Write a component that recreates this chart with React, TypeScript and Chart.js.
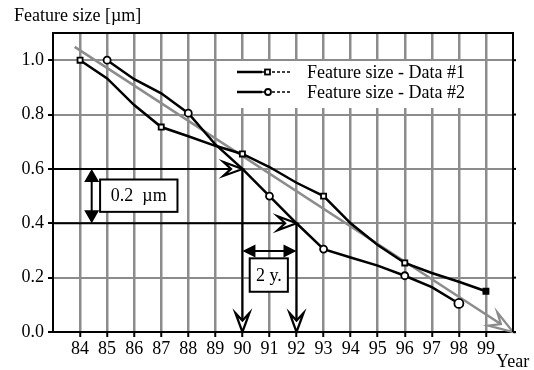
import { useEffect, useRef } from 'react';
import { Chart, registerables } from 'chart.js';

Chart.register(...registerables);

const years1 = [84, 85, 86, 87, 88, 89, 90, 91, 92, 93, 94, 95, 96, 97, 98, 99];
const series1 = [1.0, 0.933, 0.835, 0.754, 0.72, 0.685, 0.655, 0.607, 0.549, 0.5, 0.4, 0.32, 0.254, 0.217, 0.185, 0.15];
const markers1 = [84, 87, 90, 93, 96, 99];

const years2 = [85, 86, 87, 88, 89, 90, 91, 92, 93, 94, 95, 96, 97, 98];
const series2 = [1.0, 0.93, 0.878, 0.805, 0.69, 0.6, 0.5, 0.4, 0.305, 0.274, 0.244, 0.207, 0.165, 0.105];
const markers2 = [85, 88, 91, 93, 96, 98];

const trendX = [83.8, 100];
const trendY = [1.049, 0];

const xTicks = [84, 85, 86, 87, 88, 89, 90, 91, 92, 93, 94, 95, 96, 97, 98, 99];
const yTicks = [0, 0.2, 0.4, 0.6, 0.8, 1.0];

const legendLabels = ['Feature size - Data #1', 'Feature size - Data #2'];
const yTitle = 'Feature size [\u00b5m]';
const xTitle = 'Year';

// annotation geometry in data units
const hArrows = [
  { y: 0.6, x0: 83, x1: 90 },
  { y: 0.4, x0: 83, x1: 92 },
];
const vArrows = [
  { x: 90, y0: 0.6, y1: 0 },
  { x: 92, y0: 0.4, y1: 0 },
];
const dimV = { x: 84.43, y0: 0.6, y1: 0.4 };
const dimH = { y: 0.298, x0: 90, x1: 92 };
const boxes = [
  { x0: 84.74, x1: 87.6, y0: 0.561, y1: 0.442, text: '0.2  \u00b5m' },
  { x0: 90.27, x1: 91.68, y0: 0.271, y1: 0.148, text: '2 y.' },
];

const FONT = "'Liberation Serif', 'Times New Roman', serif";
const FS = 18;

function openHead(ctx: CanvasRenderingContext2D, tx: number, ty: number, ang: number, len: number, half: number, color: string) {
  const cos = Math.cos(ang), sin = Math.sin(ang);
  const p = (a: number, b: number) => [tx - a * cos - b * -sin, ty - a * sin - b * cos];
  const w1 = p(len, half);
  const w2 = p(len, -half);
  const n = p(len * 0.6, 0);
  ctx.save();
  ctx.beginPath();
  ctx.moveTo(tx, ty);
  ctx.lineTo(w1[0], w1[1]);
  ctx.lineTo(n[0], n[1]);
  ctx.lineTo(w2[0], w2[1]);
  ctx.closePath();
  ctx.fillStyle = '#fff';
  ctx.fill();
  ctx.strokeStyle = color;
  ctx.lineWidth = 2.2;
  ctx.lineJoin = 'miter';
  ctx.stroke();
  ctx.restore();
}

function filledHead(ctx: CanvasRenderingContext2D, tx: number, ty: number, ang: number, len: number, half: number) {
  const cos = Math.cos(ang), sin = Math.sin(ang);
  const p = (a: number, b: number) => [tx - a * cos - b * -sin, ty - a * sin - b * cos];
  const w1 = p(len, half);
  const w2 = p(len, -half);
  ctx.beginPath();
  ctx.moveTo(tx, ty);
  ctx.lineTo(w1[0], w1[1]);
  ctx.lineTo(w2[0], w2[1]);
  ctx.closePath();
  ctx.fillStyle = '#000';
  ctx.fill();
}

const decorPlugin = {
  id: 'decor',
  afterDatasetsDraw(chart: any) {
    const ctx: CanvasRenderingContext2D = chart.ctx;
    const xs = chart.scales.x, ys = chart.scales.y;
    const X = (v: number) => xs.getPixelForValue(v);
    const Y = (v: number) => ys.getPixelForValue(v);
    ctx.save();
    {
      const x1 = X(trendX[0]), y1 = Y(trendY[0]), x2 = X(trendX[1]), y2 = Y(trendY[1]);
      openHead(ctx, x2, y2, Math.atan2(y2 - y1, x2 - x1), 24, 8, '#8c8c8c');
    }
    ctx.strokeStyle = '#000';
    ctx.lineWidth = 2;
    for (const a of hArrows) {
      ctx.beginPath();
      ctx.moveTo(X(a.x0), Y(a.y));
      ctx.lineTo(X(a.x1) - 4, Y(a.y));
      ctx.stroke();
      openHead(ctx, X(a.x1), Y(a.y), 0, 19, 7, '#000');
    }
    for (const a of vArrows) {
      ctx.beginPath();
      ctx.moveTo(X(a.x), Y(a.y0));
      ctx.lineTo(X(a.x), Y(a.y1) - 4);
      ctx.stroke();
      openHead(ctx, X(a.x), Y(a.y1), Math.PI / 2, 19, 7, '#000');
    }
    {
      const x = X(dimV.x), ya = Y(dimV.y0), yb = Y(dimV.y1);
      ctx.beginPath();
      ctx.moveTo(x, ya + 8);
      ctx.lineTo(x, yb - 8);
      ctx.stroke();
      filledHead(ctx, x, ya, -Math.PI / 2, 13, 7.5);
      filledHead(ctx, x, yb, Math.PI / 2, 13, 7.5);
    }
    {
      const y = Y(dimH.y), xa = X(dimH.x0), xb = X(dimH.x1);
      ctx.beginPath();
      ctx.moveTo(xa + 8, y);
      ctx.lineTo(xb - 8, y);
      ctx.stroke();
      filledHead(ctx, xa, y, Math.PI, 13, 6.5);
      filledHead(ctx, xb, y, 0, 13, 6.5);
    }
    for (const b of boxes) {
      const l = X(b.x0), r = X(b.x1), t = Y(b.y0), bt = Y(b.y1);
      ctx.fillStyle = '#fff';
      ctx.fillRect(l, t, r - l, bt - t);
      ctx.strokeStyle = '#000';
      ctx.lineWidth = 2;
      ctx.strokeRect(l, t, r - l, bt - t);
      ctx.fillStyle = '#000';
      ctx.font = `${FS}px ${FONT}`;
      ctx.textAlign = 'center';
      ctx.textBaseline = 'middle';
      ctx.fillText(b.text, (l + r) / 2, (t + bt) / 2 + 1);
    }
    ctx.restore();
  },
  afterDraw(chart: any) {
    const ctx: CanvasRenderingContext2D = chart.ctx;
    const a = chart.chartArea;
    const ys = chart.scales.y;
    ctx.save();
    ctx.strokeStyle = '#000';
    ctx.lineWidth = 2;
    ctx.beginPath();
    ctx.moveTo(a.left, a.top);
    ctx.lineTo(a.right, a.top);
    ctx.lineTo(a.right, a.bottom);
    ctx.stroke();
    for (const v of yTicks) {
      const y = ys.getPixelForValue(v);
      ctx.beginPath();
      ctx.moveTo(a.right, y);
      ctx.lineTo(a.right + 3, y);
      ctx.stroke();
    }
    // legend
    ctx.fillStyle = '#fff';
    ctx.fillRect(225, 61, 253, 47);
    const rows = [72, 92];
    rows.forEach((ry, i) => {
      ctx.strokeStyle = '#000';
      ctx.lineWidth = 2.5;
      ctx.setLineDash([]);
      ctx.beginPath();
      ctx.moveTo(237, ry);
      ctx.lineTo(262, ry);
      ctx.stroke();
      ctx.lineWidth = 1.5;
      ctx.setLineDash([3, 2]);
      ctx.beginPath();
      ctx.moveTo(262, ry);
      ctx.lineTo(292, ry);
      ctx.stroke();
      ctx.setLineDash([]);
      ctx.lineWidth = 1.8;
      ctx.fillStyle = '#fff';
      if (i === 0) {
        ctx.fillRect(265, ry - 2.5, 5, 5);
        ctx.strokeRect(265, ry - 2.5, 5, 5);
      } else {
        ctx.beginPath();
        ctx.arc(268, ry, 3, 0, Math.PI * 2);
        ctx.fill();
        ctx.stroke();
      }
      ctx.fillStyle = '#000';
      ctx.font = `${FS}px ${FONT}`;
      ctx.textAlign = 'left';
      ctx.textBaseline = 'middle';
      ctx.fillText(legendLabels[i], 307, ry + 1);
    });
    ctx.fillStyle = '#000';
    ctx.font = `${FS}px ${FONT}`;
    ctx.textAlign = 'left';
    ctx.textBaseline = 'middle';
    ctx.fillText(yTitle, 14, 16);
    ctx.fillText(xTitle, 496, 362);
    ctx.restore();
  },
};

export default function App() {
  const ref = useRef<HTMLCanvasElement | null>(null);
  useEffect(() => {
    if (!ref.current) return;
    const pts = (xs: number[], ys: number[]) => xs.map((x, i) => ({ x, y: ys[i] }));
    const chart = new Chart(ref.current, {
      type: 'line',
      data: {
        datasets: [
          {
            label: legendLabels[0],
            data: pts(years1, series1),
            borderColor: '#000',
            borderWidth: 2.5,
            pointStyle: 'rect',
            pointRadius: years1.map((y) => (markers1.includes(y) ? 3.6 : 0)),
            pointBackgroundColor: years1.map((y) => (y === 99 ? '#000' : '#fff')),
            pointBorderColor: '#000',
            pointBorderWidth: 1.8,
            tension: 0,
            order: 1,
          },
          {
            label: legendLabels[1],
            data: pts(years2, series2),
            borderColor: '#000',
            borderWidth: 2.5,
            pointStyle: 'circle',
            pointRadius: years2.map((y) => (markers2.includes(y) ? (y === 98 ? 4.5 : 3.5) : 0)),
            pointBackgroundColor: '#fff',
            pointBorderColor: '#000',
            pointBorderWidth: 1.8,
            tension: 0,
            order: 0,
          },
          {
            label: 'trend',
            data: pts(trendX, trendY),
            borderColor: '#8c8c8c',
            borderWidth: 2.5,
            pointRadius: 0,
            order: 2,
            clip: false as any,
          },
        ],
      },
      options: {
        responsive: false,
        animation: false,
        layout: { padding: { top: 33, right: 21, left: 0, bottom: 0 } },
        plugins: { legend: { display: false }, tooltip: { enabled: false }, title: { display: false } },
        scales: {
          x: {
            type: 'linear',
            min: 83,
            max: 100,
            afterBuildTicks: (s: any) => {
              s.ticks = xTicks.map((v) => ({ value: v }));
            },
            afterFit: (s: any) => {
              s.height = 38;
            },
            grid: { color: '#8c8c8c', lineWidth: 2.5, tickColor: '#000', tickWidth: 2, tickLength: 5 },
            border: { display: true, color: '#000', width: 2 },
            ticks: {
              autoSkip: false,
              maxRotation: 0,
              padding: 1,
              color: '#000',
              font: { family: FONT, size: FS },
              callback: (v: any) => String(v),
            },
          },
          y: {
            type: 'linear',
            min: 0,
            max: 1.1,
            afterBuildTicks: (s: any) => {
              s.ticks = yTicks.map((v) => ({ value: v }));
            },
            afterFit: (s: any) => {
              s.width = 53;
            },
            grid: { color: '#8c8c8c', lineWidth: 2, tickColor: '#000', tickWidth: 2, tickLength: 5 },
            border: { display: true, color: '#000', width: 2 },
            ticks: {
              padding: 4,
              color: '#000',
              font: { family: FONT, size: FS },
              callback: (v: any) => Number(v).toFixed(1),
            },
          },
        },
      },
      plugins: [decorPlugin],
    });
    return () => chart.destroy();
  }, []);
  return (
    <div style={{ position: 'fixed', left: 0, top: 0, width: 534, height: 370, background: '#fff' }}>
      <canvas ref={ref} width={534} height={370} style={{ width: 534, height: 370, display: 'block' }} />
    </div>
  );
}
